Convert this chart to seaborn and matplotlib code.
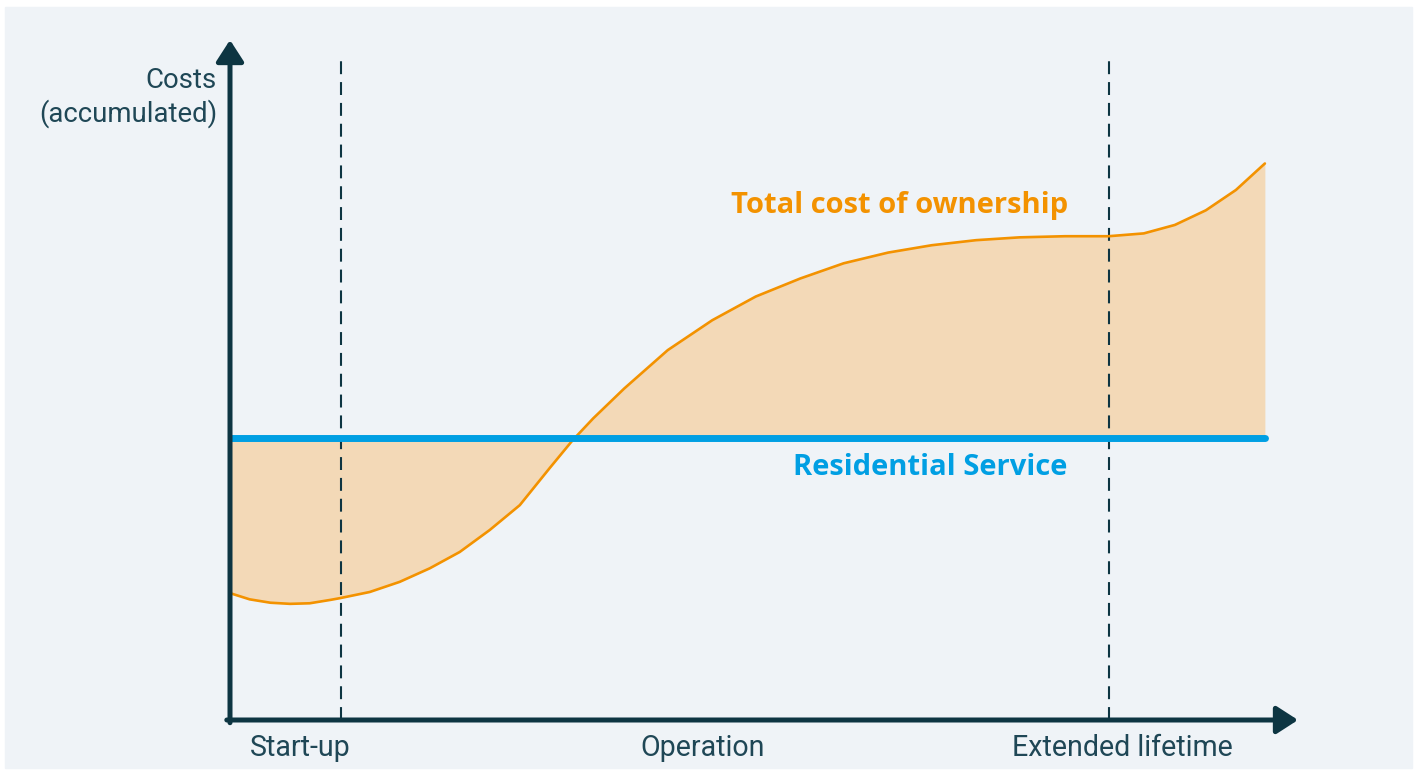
import numpy as np
import pandas as pd
import matplotlib.pyplot as plt
import seaborn as sns
from matplotlib.patches import Rectangle

# phase timeline (0 = start, 100 = end of extended lifetime)
time = [0.0, 1.9, 3.9, 5.8, 7.7, 9.7, 10.6, 13.5, 16.4, 19.3, 22.2, 25.1, 28.0,
        30.9, 33.1, 35.1, 38.1, 42.3, 46.6, 50.8, 55.1, 59.3, 63.6, 67.8, 72.1,
        76.3, 80.7, 84.9, 88.3, 91.3, 94.3, 97.2, 100.0]
# accumulated total cost of ownership (relative units)
tco = [22.5, 21.4, 20.8, 20.6, 20.7, 21.3, 21.6, 22.7, 24.5, 26.9, 29.8, 33.7, 38.1,
       44.7, 49.6, 53.5, 58.8, 65.6, 70.9, 75.1, 78.3, 81.0, 82.9, 84.2, 85.1,
       85.6, 85.8, 85.8, 86.3, 87.8, 90.4, 94.0, 98.7]
# flat cost of the residential service
residential = 50.0
phase_bounds = [10.7, 84.9]
phase_labels = ["Start-up", "Operation", "Extended lifetime"]
phase_label_x = [6.8, 45.7, 86.2]

dark = "#0d3542"
orange = "#f39200"
blue = "#009fe3"
panel = "#eff3f7"

sns.set_style("white", {"axes.facecolor": panel, "figure.facecolor": "white"})
plt.rcParams["font.family"] = ["Roboto", "DejaVu Sans"]

fig = plt.figure(figsize=(14.15, 7.71), dpi=100)
fig.patches.append(Rectangle((5 / 1415, 3 / 771), 1407 / 1415, 761 / 771,
                             transform=fig.transFigure, color=panel, zorder=-10))
ax = fig.add_axes([230 / 1415, 51 / 771, 1068 / 1415, 680 / 771])
ax.set_facecolor("none")
ax.set_xlim(0, 103.2)
ax.set_ylim(0, 120.6)
for s in ax.spines.values():
    s.set_visible(False)
ax.set_xticks([])
ax.set_yticks([])

df = pd.DataFrame({"time": time, "tco": tco})
ax.fill_between(np.array(time), np.array(tco), residential, color="#f3d9b7", lw=0, zorder=1)
sns.lineplot(data=df, x="time", y="tco", color=orange, lw=1.9, ax=ax, zorder=3)
sns.lineplot(x=[0, 100], y=[residential, residential], color=blue, lw=5, ax=ax, zorder=4)
ax.set_xlabel("")
ax.set_ylabel("")

for xb in phase_bounds:
    ax.plot([xb, xb], [0, 117.4], color=dark, lw=1.5, ls=(0, (6.2, 3.8)), zorder=2)

# axis arrows
arrow = dict(arrowstyle="-|>,head_length=0.65,head_width=0.42", lw=3.6, color=dark,
             mutation_scale=20, shrinkA=0, shrinkB=0)
ax.annotate("", xy=(1, 0), xytext=(-0.003, 0), xycoords="axes fraction",
            arrowprops=arrow, annotation_clip=False, zorder=6)
ax.annotate("", xy=(0, 1), xytext=(0, -0.004), xycoords="axes fraction",
            arrowprops=arrow, annotation_clip=False, zorder=6)

ax.text(-1.25, 110.4, "Costs\n(accumulated)", ha="right", va="center", fontsize=19.8,
        color="#1f4756", linespacing=1.2)
for lx, lab in zip(phase_label_x, phase_labels):
    ax.text(lx, -5.0, lab, ha="center", va="center", fontsize=20.6, color="#1f4756",
            clip_on=False)

ax.text(64.7, 91.3, "Total cost of ownership", ha="center", va="center", fontsize=21,
        color=orange, fontweight="bold", family=["Open Sans", "DejaVu Sans"])
ax.text(67.7, 44.7, "Residential Service", ha="center", va="center", fontsize=21,
        color=blue, fontweight="bold", family=["Open Sans", "DejaVu Sans"])

fig.savefig("out.png", dpi=100)
